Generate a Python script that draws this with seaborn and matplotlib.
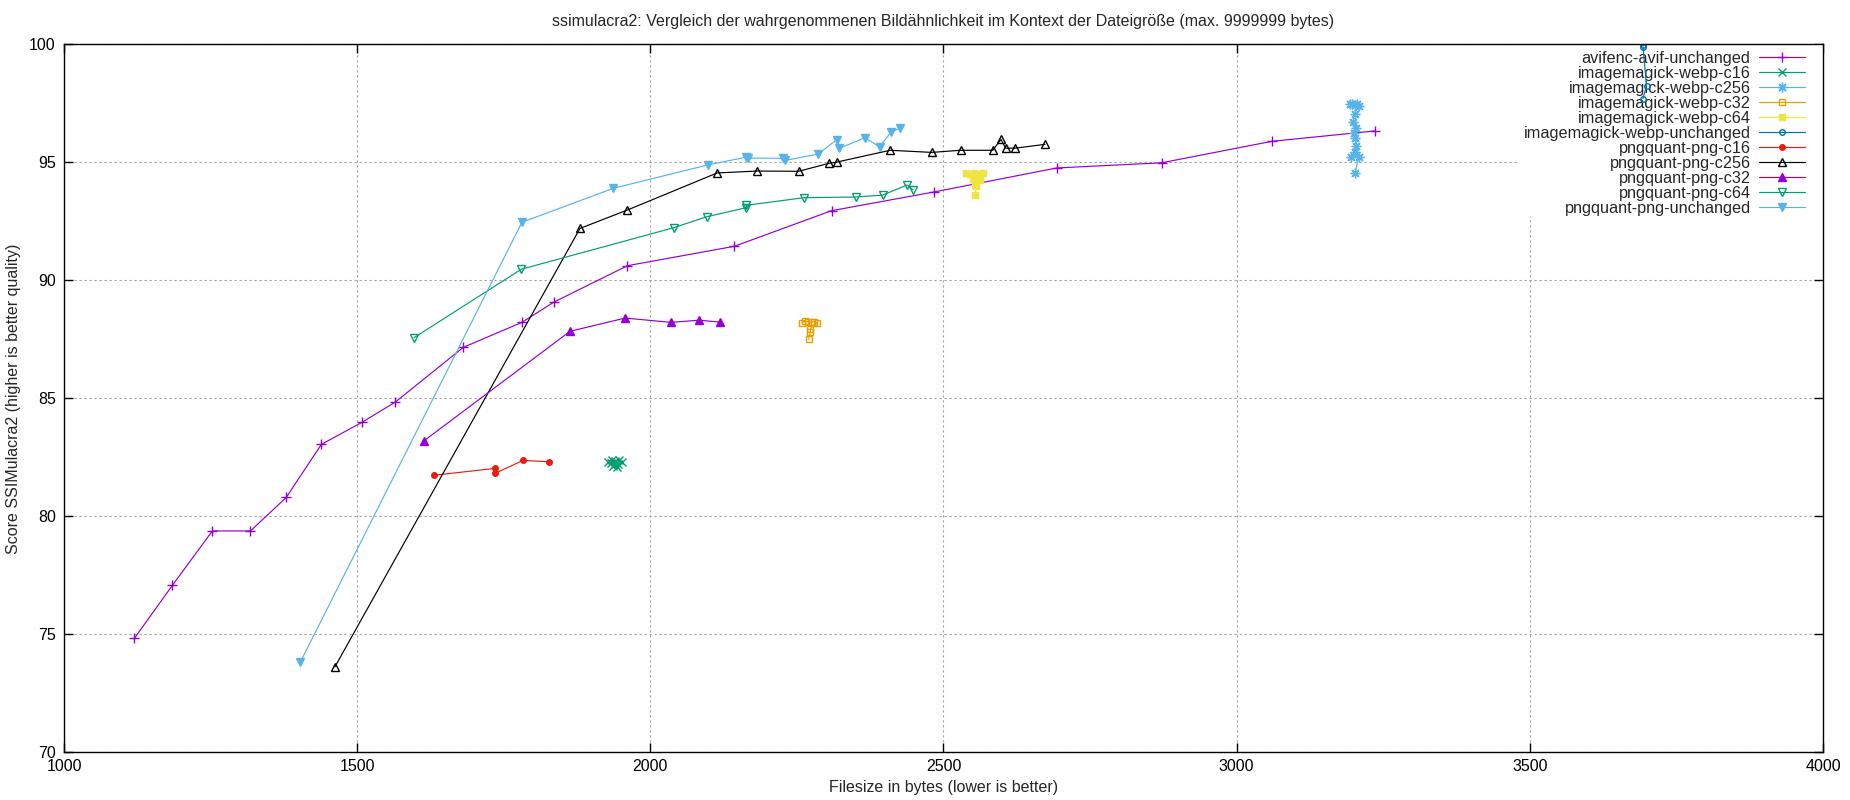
import pandas as pd
import matplotlib
matplotlib.use("Agg")
import matplotlib.pyplot as plt
from matplotlib.patches import Rectangle
import seaborn as sns

# avifenc-avif-unchanged
avif_x = [1120, 1185, 1253, 1318, 1379, 1439, 1508, 1565, 1681, 1781, 1835, 1961, 2143, 2309, 2483, 2693, 2872, 3060, 3236]
avif_y = [74.83, 77.08, 79.38, 79.38, 80.80, 83.05, 83.98, 84.84, 87.16, 88.22, 89.07, 90.62, 91.44, 92.95, 93.74, 94.76, 94.98, 95.89, 96.33]

# imagemagick-webp-c16
webp16_x = [1928, 1934, 1940, 1946, 1951, 1937, 1943, 1939, 1945, 1933]
webp16_y = [82.30, 82.40, 82.35, 82.38, 82.30, 82.15, 82.08, 82.22, 82.20, 82.25]

# imagemagick-webp-c256
webp256_x = [3193, 3197, 3201, 3205, 3209, 3201, 3199, 3203, 3200, 3202, 3204, 3201, 3195, 3208, 3202]
webp256_y = [97.48, 97.45, 97.42, 97.46, 97.40, 97.05, 96.70, 96.45, 96.25, 96.05, 95.70, 95.45, 95.22, 95.22, 94.55]

# imagemagick-webp-c32
webp32_x = [2258, 2264, 2269, 2275, 2279, 2284, 2273, 2273, 2270]
webp32_y = [88.20, 88.27, 88.25, 88.22, 88.25, 88.20, 87.95, 87.82, 87.50]

# imagemagick-webp-c64
webp64_x = [2538, 2545, 2552, 2560, 2567, 2550, 2557, 2562, 2553, 2556, 2554]
webp64_y = [94.55, 94.50, 94.55, 94.50, 94.55, 94.30, 94.35, 94.25, 94.05, 94.00, 93.60]

# imagemagick-webp-unchanged
webpu_x = [3693, 3693, 3699, 3693]
webpu_y = [99.98, 99.90, 98.25, 97.70]

# pngquant-png-c16
png16_x = [1631, 1735, 1735, 1783, 1828]
png16_y = [81.74, 82.03, 81.82, 82.37, 82.31]

# pngquant-png-c256
png256_x = [1462, 1880, 1961, 2114, 2182, 2253, 2305, 2318, 2409, 2480, 2529, 2584, 2598, 2606, 2622, 2673]
png256_y = [73.62, 92.20, 92.98, 94.55, 94.63, 94.62, 94.96, 95.01, 95.51, 95.42, 95.51, 95.51, 95.97, 95.60, 95.60, 95.76]

# pngquant-png-c32
png32_x = [1614, 1863, 1957, 2035, 2083, 2119]
png32_y = [83.20, 87.84, 88.40, 88.22, 88.31, 88.23]

# pngquant-png-c64
png64_x = [1597, 1780, 2040, 2097, 2164, 2164, 2262, 2350, 2396, 2438, 2448]
png64_y = [87.57, 90.47, 92.23, 92.70, 93.08, 93.18, 93.50, 93.53, 93.61, 94.04, 93.83]

# pngquant-png-unchanged
pngu_x = [1403, 1781, 1937, 2098, 2164, 2166, 2227, 2230, 2286, 2318, 2322, 2366, 2391, 2410, 2426]
pngu_y = [73.82, 92.46, 93.90, 94.89, 95.22, 95.18, 95.17, 95.08, 95.35, 95.96, 95.59, 96.04, 95.65, 96.27, 96.46]

# name, x, y, colour, marker, filled, marker size
series = [
    ("avifenc-avif-unchanged", avif_x, avif_y, "#9400D3", "+", True, 7),
    ("imagemagick-webp-c16", webp16_x, webp16_y, "#009E73", "x", True, 5.5),
    ("imagemagick-webp-c256", webp256_x, webp256_y, "#56B4E9", (8, 2, 0), True, 7),
    ("imagemagick-webp-c32", webp32_x, webp32_y, "#E69F00", "s", False, 4.5),
    ("imagemagick-webp-c64", webp64_x, webp64_y, "#F0E442", "s", True, 4.5),
    ("imagemagick-webp-unchanged", webpu_x, webpu_y, "#0072B2", "o", False, 4),
    ("pngquant-png-c16", png16_x, png16_y, "#E51E10", "o", True, 4),
    ("pngquant-png-c256", png256_x, png256_y, "black", "^", False, 6),
    ("pngquant-png-c32", png32_x, png32_y, "#9400D3", "^", True, 6),
    ("pngquant-png-c64", png64_x, png64_y, "#009E73", "v", False, 6),
    ("pngquant-png-unchanged", pngu_x, pngu_y, "#56B4E9", "v", True, 6),
]

sns.set_style("ticks")
plt.rcParams["font.family"] = ["Liberation Sans", "DejaVu Sans"]
plt.rcParams["font.size"] = 11.5

fig = plt.figure(figsize=(18.5, 8), dpi=100)
ax = fig.add_axes([0.0346, 0.0596, 0.9508, 0.885])

for name, xs, ys, color, marker, filled, ms in series:
    df = pd.DataFrame({"size": xs, "score": ys})
    sns.lineplot(data=df, x="size", y="score", ax=ax, sort=False, estimator=None,
                 color=color, linewidth=0.85, marker=marker, markersize=ms,
                 markeredgecolor=color, markerfacecolor=color if filled else "none",
                 markeredgewidth=1.0, label=name)

ax.set_xlim(1000, 4000)
ax.set_ylim(70, 100)
ax.set_xticks(range(1000, 4001, 500))
ax.set_yticks(range(70, 101, 5))
ax.tick_params(direction="in", length=6.5, width=1, top=True, right=True,
               labelsize=11.5, colors="black")
ax.tick_params(axis="x", pad=5)
ax.tick_params(axis="y", pad=6)
ax.set_axisbelow(True)
ax.grid(True, color="#a0a0a0", linestyle=(0, (2, 2.5)), linewidth=0.8)
for sp in ax.spines.values():
    sp.set_color("black")
    sp.set_linewidth(1)

ax.set_title("ssimulacra2: Vergleich der wahrgenommenen Bildähnlichkeit im Kontext der Dateigröße (max. 9999999 bytes)",
             fontsize=11.5, pad=13)
ax.set_xlabel("Filesize in bytes (lower is better)", fontsize=11.5, labelpad=4)
ax.set_ylabel("Score SSIMulacra2 (higher is better quality)", fontsize=11.5, labelpad=6)

# white key background hides the grid behind the legend
ax.add_patch(Rectangle((0.827, 0.756), 0.173, 0.244, transform=ax.transAxes,
                       facecolor="white", edgecolor="none", zorder=1))

leg = ax.legend(loc="upper right", bbox_to_anchor=(1 - 11.5 / 1759, 1.0), borderaxespad=0,
                markerfirst=False, frameon=False, handlelength=2.8, handletextpad=0.55,
                labelspacing=0.0, borderpad=0.4, fontsize=11.7)
leg.set_zorder(1.5)

fig.savefig("out.png", dpi=100)
